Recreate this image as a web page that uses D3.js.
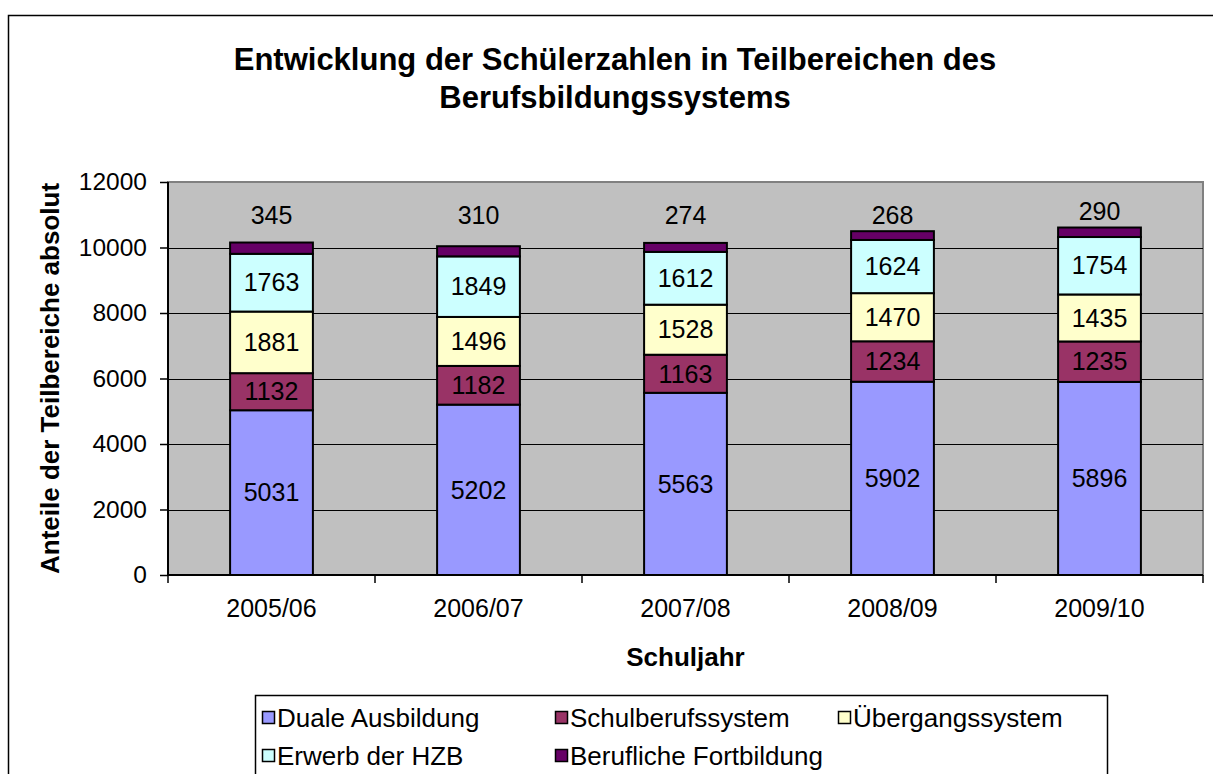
<!DOCTYPE html>
<html>
<head>
<meta charset="utf-8">
<script src="https://cdn.jsdelivr.net/npm/d3@7"></script>
<style>
  body { margin: 0; background: #fff; }
  svg { display: block; font-family: "Liberation Sans", Arial, sans-serif; }
</style>
</head>
<body>
<svg id="chart" width="1213" height="774"></svg>
<script>
// Schuljahre und Teilbereiche
const years = ["2005/06", "2006/07", "2007/08", "2008/09", "2009/10"];
const seriesNames = ["Duale Ausbildung", "Schulberufssystem", "Übergangssystem", "Erwerb der HZB", "Berufliche Fortbildung"];
const seriesColors = ["#9999FF", "#993366", "#FFFFCC", "#CCFFFF", "#660066"];

// Werte je Teilbereich
const duale = [5031, 5202, 5563, 5902, 5896];
const schulberuf = [1132, 1182, 1163, 1234, 1235];
const uebergang = [1881, 1496, 1528, 1470, 1435];
const hzb = [1763, 1849, 1612, 1624, 1754];
const fortbildung = [345, 310, 274, 268, 290];

const yTicks = [0, 2000, 4000, 6000, 8000, 10000, 12000];

const svg = d3.select('#chart');
const plot = { left: 168, top: 182, right: 1203, bottom: 575 };

// Tabelle fuer d3.stack
const table = years.map((y, i) => ({
    year: y,
    "Duale Ausbildung": duale[i],
    "Schulberufssystem": schulberuf[i],
    "Übergangssystem": uebergang[i],
    "Erwerb der HZB": hzb[i],
    "Berufliche Fortbildung": fortbildung[i]
}));
const stacked = d3.stack().keys(seriesNames)(table);

const x = d3.scaleBand().domain(years).range([plot.left, plot.right]).padding(0);
const y = d3.scaleLinear().domain([0, 12000]).range([plot.bottom, plot.top]);
const barW = x.bandwidth() * 0.4;

// Rahmen um das Diagramm
svg.append('rect')
    .attr('x', 8.5).attr('y', 15.5)
    .attr('width', 1230).attr('height', 800)
    .attr('fill', 'none').attr('stroke', '#000').attr('stroke-width', 1.5);

// Titel
const title = svg.append('text')
    .attr('text-anchor', 'middle')
    .attr('font-size', 31).attr('font-weight', 'bold');
title.append('tspan').attr('x', 615).attr('y', 70).text('Entwicklung der Schülerzahlen in Teilbereichen des');
title.append('tspan').attr('x', 615).attr('y', 108).text('Berufsbildungssystems');

// Zeichenflaeche
svg.append('rect')
    .attr('x', plot.left).attr('y', plot.top)
    .attr('width', plot.right - plot.left).attr('height', plot.bottom - plot.top)
    .attr('fill', '#C0C0C0').attr('stroke', '#808080').attr('stroke-width', 2);

// Gitternetzlinien
svg.append('g')
    .selectAll('line')
    .data(yTicks.filter(t => t > 0 && t < 12000))
    .enter()
    .append('line')
    .attr('x1', plot.left).attr('x2', plot.right)
    .attr('y1', d => Math.round(y(d)) + 0.5).attr('y2', d => Math.round(y(d)) + 0.5)
    .attr('stroke', '#000').attr('stroke-width', 1);

// Balken
const layers = svg.append('g')
    .selectAll('g')
    .data(stacked)
    .enter()
    .append('g')
    .attr('fill', (d, i) => seriesColors[i]);

layers.selectAll('rect')
    .data(d => d)
    .enter()
    .append('rect')
    .attr('x', d => x(d.data.year) + (x.bandwidth() - barW) / 2)
    .attr('y', d => y(d[1]))
    .attr('width', barW)
    .attr('height', d => y(d[0]) - y(d[1]))
    .attr('stroke', '#000').attr('stroke-width', 2);

// Datenbeschriftungen (oberste Reihe ueber dem Balken)
layers.each(function(layer, li) {
    const last = li === stacked.length - 1;
    d3.select(this).selectAll('text')
        .data(layer)
        .enter()
        .append('text')
        .attr('x', d => x(d.data.year) + x.bandwidth() / 2)
        .attr('y', d => last ? Math.min(y(d[1]) - 16, y(11000)) : (y(d[0]) + y(d[1])) / 2)
        .attr('dy', '0.35em')
        .attr('text-anchor', 'middle')
        .attr('font-size', 25)
        .attr('fill', '#000')
        .text(d => d[1] - d[0]);
});

// Achsen
const yAxis = svg.append('g')
    .attr('transform', `translate(${plot.left},0)`)
    .call(d3.axisLeft(y).tickValues(yTicks).tickSize(8).tickPadding(13).tickFormat(d3.format('d')));
const xAxis = svg.append('g')
    .attr('transform', `translate(0,${plot.bottom})`)
    .call(d3.axisBottom(x).tickSize(0).tickPadding(24));
[yAxis, xAxis].forEach(g => {
    g.select('.domain').attr('stroke', '#000').attr('stroke-width', 2);
    g.selectAll('line').attr('stroke', '#000').attr('stroke-width', 1.5);
    g.selectAll('text').attr('font-size', 25).attr('font-family', '"Liberation Sans", Arial, sans-serif').attr('fill', '#000');
});
yAxis.selectAll('text').attr('font-size', 24.5);
yAxis.select('.domain').attr('d', `M0,${plot.top}V${plot.bottom}`);
xAxis.select('.domain').attr('d', `M${plot.left},0H${plot.right}`);

// Teilstriche zwischen den Kategorien
xAxis.selectAll('line.sep')
    .data(d3.range(years.length + 1))
    .enter()
    .append('line')
    .attr('class', 'sep')
    .attr('x1', i => plot.left + i * x.bandwidth()).attr('x2', i => plot.left + i * x.bandwidth())
    .attr('y1', 0).attr('y2', 8)
    .attr('stroke', '#000').attr('stroke-width', 1.5);

// Achsentitel
svg.append('text')
    .attr('transform', `translate(59,${(plot.top + plot.bottom) / 2}) rotate(-90)`)
    .attr('text-anchor', 'middle')
    .attr('font-size', 26).attr('font-weight', 'bold')
    .text('Anteile der Teilbereiche absolut');
svg.append('text')
    .attr('x', (plot.left + plot.right) / 2).attr('y', 666)
    .attr('text-anchor', 'middle')
    .attr('font-size', 26).attr('font-weight', 'bold')
    .text('Schuljahr');

// Legende
const legend = svg.append('g');
legend.append('rect')
    .attr('x', 255.5).attr('y', 695.5)
    .attr('width', 852).attr('height', 120)
    .attr('fill', '#fff').attr('stroke', '#000').attr('stroke-width', 1.5);
const legendPos = [[262, 718], [555, 718], [838, 718], [262, 756], [555, 756]];
const items = legend.selectAll('g.item')
    .data(seriesNames)
    .enter()
    .append('g')
    .attr('transform', (d, i) => `translate(${legendPos[i][0]},${legendPos[i][1]})`);
items.append('rect')
    .attr('x', 0.5).attr('y', -6.5).attr('width', 12).attr('height', 12)
    .attr('fill', (d, i) => seriesColors[i])
    .attr('stroke', '#000').attr('stroke-width', 1.5);
items.append('text')
    .attr('x', 15).attr('dy', '0.35em')
    .attr('font-size', 26)
    .text(d => d);
</script>
</body>
</html>
